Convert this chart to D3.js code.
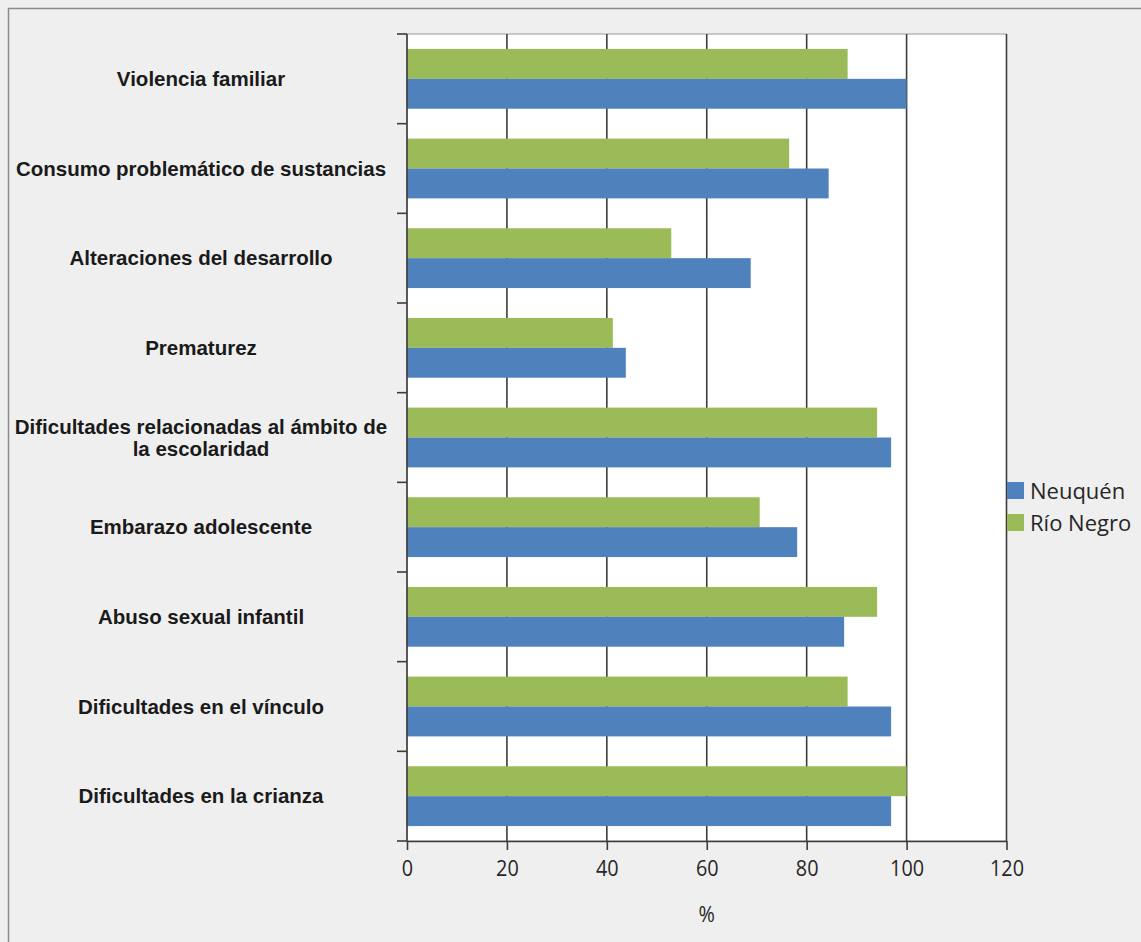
<!DOCTYPE html>
<html>
<head>
<meta charset="utf-8">
<script src="https://cdn.jsdelivr.net/npm/d3@7"></script>
<style>
  html, body { margin: 0; padding: 0; background: #efefef; }
  svg { display: block; }
</style>
</head>
<body>
<svg id="chart" width="1141" height="942"></svg>
<script>
// Problemáticas detectadas, % de equipos que las mencionan
const categories = [
  "Violencia familiar",
  "Consumo problemático de sustancias",
  "Alteraciones del desarrollo",
  "Prematurez",
  "Dificultades relacionadas al ámbito de\nla escolaridad",
  "Embarazo adolescente",
  "Abuso sexual infantil",
  "Dificultades en el vínculo",
  "Dificultades en la crianza"
];
const seriesNames = ["Río Negro", "Neuquén"];
const neuquen  = [100, 84.4, 68.8, 43.8, 96.9, 78.1, 87.5, 96.9, 96.9];
const rioNegro = [88.2, 76.5, 52.9, 41.2, 94.1, 70.6, 94.1, 88.2, 100];
const xTicks = [0, 20, 40, 60, 80, 100, 120];
const legendOrder = ["Neuquén", "Río Negro"];
const colors = { "Neuquén": "#4f81bd", "Río Negro": "#9bbb59" };
const axisTitle = "%";

const svg = d3.select("#chart");

// outer frame
svg.append("rect")
  .attr("x", 8.5).attr("y", 8.5)
  .attr("width", 1160).attr("height", 960)
  .attr("fill", "#efefef")
  .attr("stroke", "#8a8a8a").attr("stroke-width", 1.5);

const plot = { left: 407, right: 1006.5, top: 34, bottom: 841 };

const x = d3.scaleLinear().domain([0, 120]).range([plot.left, plot.right]);
const y = d3.scaleBand().domain(categories).range([plot.top, plot.bottom]).padding(0);
const ySeries = d3.scaleBand().domain(seriesNames).range([0, y.bandwidth()])
  .paddingInner(0).paddingOuter(0.5);

// plot area
svg.append("rect")
  .attr("x", plot.left).attr("y", plot.top)
  .attr("width", plot.right - plot.left).attr("height", plot.bottom - plot.top)
  .attr("fill", "#ffffff")
  .attr("stroke", "#9a9a9a").attr("stroke-width", 1);

// vertical gridlines
svg.append("g")
  .selectAll("line")
  .data(xTicks.filter(d => d > 0))
  .join("line")
  .attr("x1", d => x(d)).attr("x2", d => x(d))
  .attr("y1", plot.top).attr("y2", plot.bottom)
  .attr("stroke", "#3c3c3c").attr("stroke-width", 1.6);

// bars
const rows = categories.map((c, i) => ({ cat: c, "Neuquén": neuquen[i], "Río Negro": rioNegro[i] }));
const groups = svg.append("g")
  .selectAll("g")
  .data(rows)
  .join("g")
  .attr("transform", d => `translate(0,${y(d.cat)})`);

groups.selectAll("rect")
  .data(d => seriesNames.map(s => ({ s, v: d[s] })))
  .join("rect")
  .attr("x", x(0))
  .attr("y", d => ySeries(d.s))
  .attr("width", d => x(d.v) - x(0))
  .attr("height", ySeries.bandwidth())
  .attr("fill", d => colors[d.s]);

// x axis
const xAxis = svg.append("g")
  .attr("transform", `translate(0,${plot.bottom})`)
  .call(d3.axisBottom(x).tickValues(xTicks).tickSize(9).tickSizeOuter(0).tickPadding(10));
xAxis.select(".domain").attr("stroke", "#3c3c3c").attr("stroke-width", 1.6);
xAxis.selectAll(".tick line").attr("stroke", "#3c3c3c").attr("stroke-width", 1.6);
xAxis.selectAll(".tick text")
  .attr("font-family", "'Open Sans', sans-serif")
  .attr("font-size", 22.5)
  .attr("transform", "scale(0.88,1)")
  .attr("fill", "#262626");

// y axis line and boundary ticks
svg.append("line")
  .attr("x1", plot.left).attr("x2", plot.left)
  .attr("y1", plot.top).attr("y2", plot.bottom)
  .attr("stroke", "#3c3c3c").attr("stroke-width", 1.6);
const boundaries = categories.map(c => y(c)).concat([plot.bottom]);
svg.append("g")
  .selectAll("line")
  .data(boundaries)
  .join("line")
  .attr("x1", plot.left - 10).attr("x2", plot.left)
  .attr("y1", d => d).attr("y2", d => d)
  .attr("stroke", "#3c3c3c").attr("stroke-width", 1.6);

// category labels
const labels = svg.append("g")
  .selectAll("text")
  .data(categories)
  .join("text")
  .attr("x", 201)
  .attr("text-anchor", "middle")
  .attr("font-family", "'Liberation Sans', Arial, sans-serif")
  .attr("font-weight", "bold")
  .attr("font-size", 20.5)
  .attr("fill", "#1a1a1a");
labels.each(function (d) {
  const lines = d.split("\n");
  const cy = y(d) + y.bandwidth() / 2;
  const lh = 22;
  const t = d3.select(this);
  lines.forEach((ln, i) => {
    t.append("tspan")
      .attr("x", 201)
      .attr("y", cy + (i - (lines.length - 1) / 2) * lh)
      .attr("dy", "0.35em")
      .text(ln);
  });
});

// axis title
svg.append("text")
  .attr("transform", `translate(${x(60)},914) scale(0.88,1)`)
  .attr("dy", "0.35em")
  .attr("text-anchor", "middle")
  .attr("font-family", "'Open Sans', sans-serif")
  .attr("font-size", 22.5)
  .attr("fill", "#262626")
  .text(axisTitle);

// legend
const legend = svg.append("g")
  .selectAll("g")
  .data(legendOrder)
  .join("g")
  .attr("transform", (d, i) => `translate(1007,${482 + i * 32})`);
legend.append("rect")
  .attr("width", 17).attr("height", 17)
  .attr("fill", d => colors[d]);
legend.append("text")
  .attr("x", 23).attr("y", 9)
  .attr("dy", "0.35em")
  .attr("font-family", "'Open Sans', sans-serif")
  .attr("font-size", 22)
  .attr("fill", "#262626")
  .text(d => d);
</script>
</body>
</html>
